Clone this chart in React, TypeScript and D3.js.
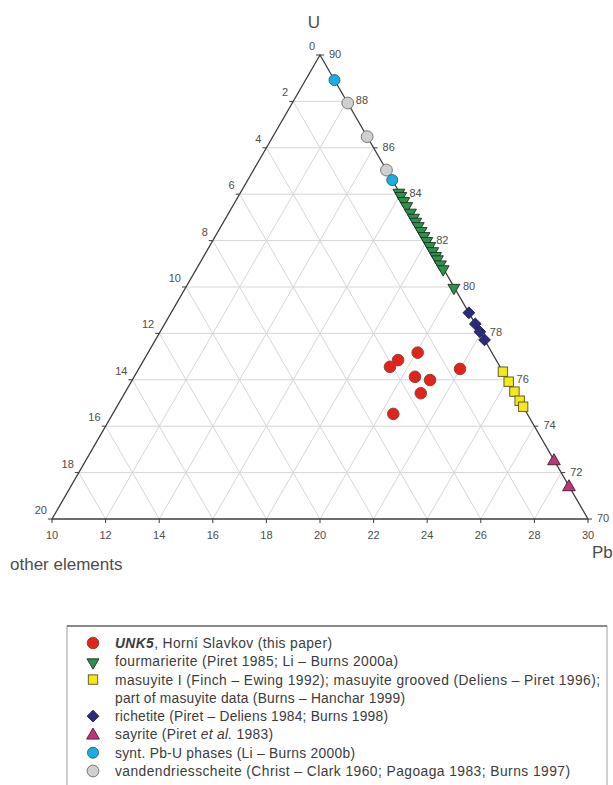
import React from "react";
import * as d3 from "d3";

// Ternary U – Pb – other elements (partial triangle), values in %.
const uRange = [70, 90];
const pbRange = [10, 30];
const otherRange = [0, 20];
const tickStep = 2;

// Series: [U, Pb] pairs; other elements = 100 - U - Pb
const unk5U = [76.85, 76.56, 77.17, 76.13, 75.99, 75.42, 76.47, 74.53];
const unk5Pb = [19.49, 19.33, 20.06, 20.48, 21.11, 21.05, 21.99, 20.47];

const fourmarieriteU = [84.11, 83.97, 83.75, 83.53, 83.25, 83.03, 82.86, 82.67, 82.46, 82.24, 82.03, 81.81, 81.59, 81.38, 81.24, 81.02, 80.81, 80.01];
const masuyiteU = [76.35, 75.92, 75.49, 75.1, 74.84];
const richetiteU = [78.89, 78.41, 78.07, 77.72];
const sayriteU = [72.54, 71.42];
const syntU = [88.92, 84.61];
const vandendriesscheiteU = [87.93, 86.48, 85.04];

type Pt = { u: number; pb: number };
const onEdge = (us: number[]): Pt[] => us.map((u) => ({ u, pb: 100 - u }));
const unk5: Pt[] = unk5U.map((u, i) => ({ u, pb: unk5Pb[i] }));

const W = 613;
const H = 785;
const apex = { x: 320, y: 55 };
const left = { x: 52, y: 519 };
const right = { x: 588, y: 519 };

const wU = d3.scaleLinear().domain(uRange).range([0, 1]);
const wPb = d3.scaleLinear().domain(pbRange).range([0, 1]);
const wO = d3.scaleLinear().domain(otherRange).range([0, 1]);

function project(u: number, pb: number) {
  const o = 100 - u - pb;
  const a = wU(u), c = wPb(pb), b = wO(o);
  return {
    x: a * apex.x + b * left.x + c * right.x,
    y: a * apex.y + b * left.y + c * right.y,
  };
}

const FONT = "'Liberation Sans', Arial, sans-serif";
const TXT = "#4d4d4d";

function Marker({ kind, x, y }: { kind: string; x: number; y: number }) {
  switch (kind) {
    case "unk5":
      return <circle cx={x} cy={y} r={5.8} fill="#e3231b" stroke="#8a4a3a" strokeWidth={1} />;
    case "four":
      return <path d={d3.symbol(d3.symbolTriangle, 62)()!} transform={`translate(${x},${y + 1}) rotate(180)`} fill="#2c9249" stroke="#1f2f24" strokeWidth={0.9} />;
    case "mas":
      return <rect x={x - 4.7} y={y - 4.7} width={9.4} height={9.4} fill="#f4e71c" stroke="#5a5020" strokeWidth={0.9} />;
    case "rich":
      return <path d={d3.symbol(d3.symbolSquare, 70)()!} transform={`translate(${x},${y}) rotate(45)`} fill="#2b2b7e" stroke="#1a1a40" strokeWidth={0.8} />;
    case "say":
      return <path d={d3.symbol(d3.symbolTriangle, 70)()!} transform={`translate(${x},${y + 1})`} fill="#c23479" stroke="#3a2030" strokeWidth={0.9} />;
    case "synt":
      return <circle cx={x} cy={y} r={5.5} fill="#19aee2" stroke="#3a5a6a" strokeWidth={0.9} />;
    default:
      return <circle cx={x} cy={y} r={5.9} fill="#cfcfcf" stroke="#7a7a7a" strokeWidth={1} />;
  }
}

const series: { kind: string; pts: Pt[] }[] = [
  { kind: "vand", pts: onEdge(vandendriesscheiteU) },
  { kind: "synt", pts: onEdge(syntU) },
  { kind: "four", pts: onEdge(fourmarieriteU) },
  { kind: "rich", pts: onEdge(richetiteU) },
  { kind: "mas", pts: onEdge(masuyiteU) },
  { kind: "say", pts: onEdge(sayriteU) },
  { kind: "unk5", pts: unk5 },
];

// legend lines: marker kind and text
const legendKinds = ["unk5", "four", "mas", null, "rich", "say", "synt", "vand"];
const legendLines: React.ReactNode[] = [
  <>
    <tspan fontWeight="bold" fontStyle="italic">UNK5</tspan>, Horní Slavkov (this paper)
  </>,
  "fourmarierite (Piret 1985; Li – Burns 2000a)",
  "masuyite I (Finch – Ewing 1992); masuyite grooved (Deliens – Piret 1996);",
  "part of masuyite data (Burns – Hanchar 1999)",
  "richetite (Piret – Deliens 1984; Burns 1998)",
  <>
    sayrite (Piret <tspan fontStyle="italic">et al.</tspan> 1983)
  </>,
  "synt. Pb-U phases (Li – Burns 2000b)",
  "vandendriesscheite (Christ – Clark 1960; Pagoaga 1983; Burns 1997)",
];
// set widths of the legend lines (px)
const legendWidths = [217, 283, 485, 290, 273, 158, 240, 455];

export default function App() {
  const ticks = d3.range(0, 21, tickStep); // steps along each side
  const inner = ticks.filter((t) => t > 0 && t < 20);

  // grid lines for constant U, Pb and other elements
  const grid: { x1: number; y1: number; x2: number; y2: number }[] = [];
  inner.forEach((t) => {
    const u = uRange[0] + t;
    const a = project(u, 100 - u);
    const b = project(u, pbRange[0]);
    grid.push({ x1: a.x, y1: a.y, x2: b.x, y2: b.y });
    const pb = pbRange[0] + t;
    const c = project(uRange[0], pb);
    const d = project(100 - pb, pb);
    grid.push({ x1: c.x, y1: c.y, x2: d.x, y2: d.y });
    const o = t;
    const e = project(100 - o - pbRange[0], pbRange[0]);
    const f = project(uRange[0], 100 - uRange[0] - o);
    grid.push({ x1: e.x, y1: e.y, x2: f.x, y2: f.y });
  });

  const rowY = d3.scaleLinear().domain([0, 7]).range([643, 771]);

  return (
    <svg width={W} height={H} viewBox={`0 0 ${W} ${H}`} style={{ position: "absolute", left: 0, top: 0, background: "#fff" }} fontFamily={FONT}>
      <rect width={W} height={H} fill="#fff" />
      <g stroke="#d6d6d6" strokeWidth={1}>
        {grid.map((g, i) => (
          <line key={i} {...g} />
        ))}
      </g>
      <path d={`M${apex.x},${apex.y}L${left.x},${left.y}L${right.x},${right.y}Z`} fill="none" stroke="#3d3d3d" strokeWidth={1.3} strokeLinejoin="round" />

      {/* ticks and labels */}
      <g fill={TXT} fontSize={11} stroke="none">
        {ticks.map((t) => {
          const pb = pbRange[0] + t;
          const p = project(uRange[0], pb);
          return (
            <g key={"b" + t}>
              <line x1={p.x} y1={p.y} x2={p.x} y2={p.y + 4} stroke="#3d3d3d" strokeWidth={1} />
              <text x={p.x} y={p.y + 20} textAnchor="middle">{pb}</text>
            </g>
          );
        })}
        {ticks.map((t) => {
          const o = otherRange[0] + t;
          const p = project(100 - o - pbRange[0], pbRange[0]);
          return (
            <g key={"l" + t}>
              <line x1={p.x} y1={p.y} x2={p.x - 4} y2={p.y} stroke="#3d3d3d" strokeWidth={1} />
              <text x={p.x - 5} y={p.y - 5} textAnchor="end">{o}</text>
            </g>
          );
        })}
        {ticks.map((t) => {
          const u = uRange[1] - t;
          const p = project(u, 100 - u);
          return (
            <g key={"r" + t}>
              <line x1={p.x} y1={p.y} x2={p.x + 4} y2={p.y} stroke="#3d3d3d" strokeWidth={1} />
              <text x={p.x + 9} y={p.y + 3} textAnchor="start">{u}</text>
            </g>
          );
        })}
      </g>

      <g fill={TXT} fontSize={17}>
        <text x={314} y={28} textAnchor="middle">U</text>
        <text x={592} y={558}>Pb</text>
        <text x={10} y={570}>other elements</text>
      </g>

      {/* data */}
      {series.map((s) =>
        s.pts.map((p, i) => {
          const q = project(p.u, p.pb);
          return <Marker key={s.kind + i} kind={s.kind} x={q.x} y={q.y} />;
        })
      )}

      {/* legend */}
      <rect x={67} y={626} width={540} height={180} fill="none" stroke="#a0a0a0" strokeWidth={1} />
      <line x1={67} y1={626} x2={607} y2={626} stroke="#8a8a8a" strokeWidth={1.8} />
      {legendLines.map((line, i) => {
        const y = rowY(i);
        const kind = legendKinds[i];
        return (
          <g key={"lg" + i}>
            {kind && <Marker kind={kind} x={93} y={y} />}
            <text x={115} y={y + 5} fontSize={13.8} fill="#3c3c3c" textLength={legendWidths[i]} lengthAdjust="spacing">
              {line}
            </text>
          </g>
        );
      })}
    </svg>
  );
}
